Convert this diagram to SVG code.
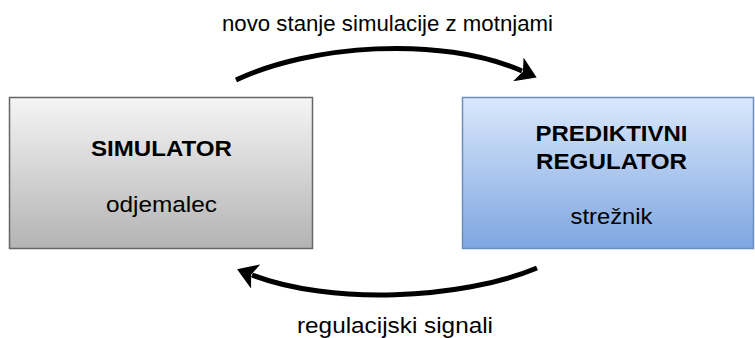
<svg xmlns="http://www.w3.org/2000/svg" width="755" height="338" viewBox="0 0 755 338">
  <style>
    .t { font-family: "Liberation Sans", Arial, Helvetica, sans-serif; font-size: 22.5px; fill: #000; text-anchor: middle; }
    .b { font-weight: bold; }
    .conn { fill: none; stroke: #000; stroke-width: 5; }
  </style>
  <defs>
    <linearGradient id="gGray" x1="0" y1="0" x2="0" y2="1">
      <stop offset="0" stop-color="#f5f5f5"/>
      <stop offset="1" stop-color="#b3b3b3"/>
    </linearGradient>
    <linearGradient id="gBlue" x1="0" y1="0" x2="0" y2="1">
      <stop offset="0" stop-color="#dae8fc"/>
      <stop offset="1" stop-color="#7ea6e0"/>
    </linearGradient>
    <marker id="arr" markerUnits="userSpaceOnUse" viewBox="0 0 20 26" refX="4" refY="13" markerWidth="20" markerHeight="26" orient="auto">
      <path d="M0,0 L20,13 L0,26 L5,13 Z" fill="#000"/>
    </marker>
  </defs>

  <g id="connectors">
    <path class="conn" d="M236,80 C310,45 440,35 522,71" marker-end="url(#arr)"/>
    <path class="conn" d="M537,268 C460,300 330,305 252,275" marker-end="url(#arr)"/>
    <text class="t" x="387.5" y="31" textLength="331" lengthAdjust="spacingAndGlyphs">novo stanje simulacije z motnjami</text>
    <text class="t" x="395" y="333" textLength="196" lengthAdjust="spacingAndGlyphs">regulacijski signali</text>
  </g>

  <g id="simulator">
    <rect x="9.5" y="97.5" width="303" height="151" fill="url(#gGray)" stroke="#666666" stroke-width="1.5"/>
    <text class="t b" x="161.5" y="156" textLength="141" lengthAdjust="spacingAndGlyphs">SIMULATOR</text>
    <text class="t" x="161.5" y="212" textLength="111" lengthAdjust="spacingAndGlyphs">odjemalec</text>
  </g>

  <g id="regulator">
    <rect x="462.5" y="97.5" width="291" height="151" fill="url(#gBlue)" stroke="#6c8ebf" stroke-width="1.5"/>
    <text class="t b" x="611.5" y="141" textLength="152" lengthAdjust="spacingAndGlyphs">PREDIKTIVNI</text>
    <text class="t b" x="611.5" y="169" textLength="151" lengthAdjust="spacingAndGlyphs">REGULATOR</text>
    <text class="t" x="611.5" y="224" textLength="82" lengthAdjust="spacingAndGlyphs">strežnik</text>
  </g>
</svg>
